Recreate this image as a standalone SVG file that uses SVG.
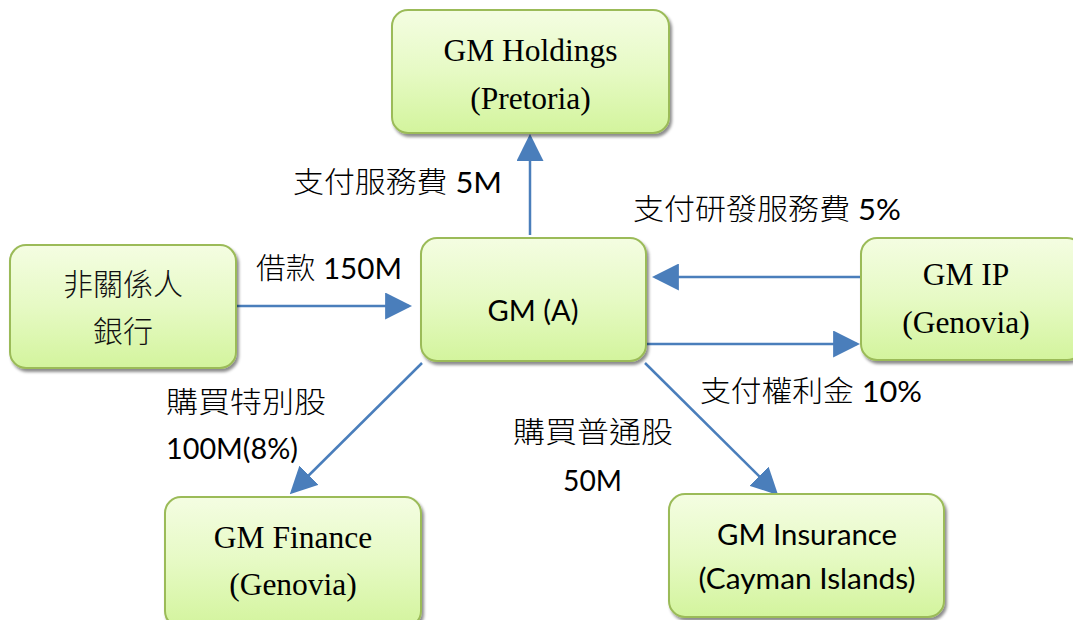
<svg xmlns="http://www.w3.org/2000/svg" width="1073" height="620" viewBox="0 0 1073 620">
  <defs>
    <linearGradient id="boxFill" x1="0" y1="0" x2="0" y2="1">
      <stop offset="0" stop-color="#f4fde2"/>
      <stop offset="0.5" stop-color="#e6fac4"/>
      <stop offset="1" stop-color="#d3f49d"/>
    </linearGradient>
    <filter id="shadow" x="-10%" y="-10%" width="125%" height="130%">
      <feDropShadow dx="2" dy="3" stdDeviation="1.6" flood-color="#000" flood-opacity="0.45"/>
    </filter>
    <marker id="arrow" markerUnits="userSpaceOnUse" markerWidth="27" markerHeight="27" viewBox="0 0 26 26" refX="23" refY="13" orient="auto">
      <path d="M0,0 L26,13 L0,26 Z" fill="#4a7ebb"/>
    </marker>
    <style>
      .box { fill: url(#boxFill); stroke: #9bbb59; stroke-width: 2; filter: url(#shadow); }
      .serif { font-family: "Liberation Serif", "Times New Roman", serif; font-size: 31.5px; fill: #000; text-anchor: middle; }
      .sans { font-family: Lato, "Noto Sans CJK TC", sans-serif; font-size: 29px; fill: #000; }
      .mid { text-anchor: middle; }
      .cjk { font-family: "Noto Sans CJK TC", sans-serif; font-size: 30px; font-weight: 300; fill: #111; text-anchor: middle; }
      .lbl { font-weight: 300; }
      .edge { stroke: #4a7ebb; stroke-width: 2.5; fill: none; marker-end: url(#arrow); }
    </style>
  </defs>

  <!-- connectors -->
  <g id="connectors">
    <line class="edge" x1="530" y1="235" x2="530" y2="137"/>
    <line class="edge" x1="237" y1="306" x2="409" y2="306"/>
    <line class="edge" x1="860" y1="277" x2="655" y2="277"/>
    <line class="edge" x1="647" y1="344" x2="857" y2="344"/>
    <line class="edge" x1="422" y1="363" x2="292" y2="492"/>
    <line class="edge" x1="645" y1="363" x2="776" y2="493"/>
  </g>

  <!-- edge labels -->
  <g id="labels">
    <text class="sans" x="293" y="193" textLength="209" lengthAdjust="spacingAndGlyphs"><tspan class="lbl">支付服務費</tspan> 5M</text>
    <text class="sans" x="256" y="279" textLength="146" lengthAdjust="spacingAndGlyphs"><tspan class="lbl">借款</tspan> 150M</text>
    <text class="sans" x="633" y="220" textLength="268" lengthAdjust="spacingAndGlyphs"><tspan class="lbl">支付研發服務費</tspan> 5%</text>
    <text class="sans" x="700" y="402" textLength="222" lengthAdjust="spacingAndGlyphs"><tspan class="lbl">支付權利金</tspan> 10%</text>
    <text class="sans lbl" x="166" y="413" textLength="160" lengthAdjust="spacingAndGlyphs">購買特別股</text>
    <text class="sans" x="166" y="459" textLength="132" lengthAdjust="spacingAndGlyphs">100M(8%)</text>
    <text class="sans lbl" x="513" y="443" textLength="160" lengthAdjust="spacingAndGlyphs">購買普通股</text>
    <text class="sans" x="563" y="491" textLength="59" lengthAdjust="spacingAndGlyphs">50M</text>
  </g>

  <!-- nodes -->
  <g id="gm-holdings">
    <rect class="box" x="392" y="10" width="277" height="123" rx="16"/>
    <text class="serif" x="530.5" y="61">GM Holdings</text>
    <text class="serif" x="530.5" y="109">(Pretoria)</text>
  </g>

  <g id="bank">
    <rect class="box" x="10" y="245" width="226" height="123" rx="16"/>
    <text class="cjk" x="123" y="295">非關係人</text>
    <text class="cjk" x="123" y="342">銀行</text>
  </g>

  <g id="gm-a">
    <rect class="box" x="421" y="238" width="225" height="123" rx="16"/>
    <text class="sans mid" x="533" y="321" textLength="91" lengthAdjust="spacingAndGlyphs">GM (A)</text>
  </g>

  <g id="gm-ip">
    <rect class="box" x="861" y="238" width="222" height="122" rx="16"/>
    <text class="serif" x="966" y="285">GM IP</text>
    <text class="serif" x="966" y="333">(Genovia)</text>
  </g>

  <g id="gm-finance">
    <rect class="box" x="165" y="497" width="256" height="130" rx="16"/>
    <text class="serif" x="293" y="548">GM Finance</text>
    <text class="serif" x="293" y="595">(Genovia)</text>
  </g>

  <g id="gm-insurance">
    <rect class="box" x="669" y="494" width="275" height="123" rx="16"/>
    <text class="sans mid" x="807" y="545" textLength="180" lengthAdjust="spacingAndGlyphs">GM Insurance</text>
    <text class="sans mid" x="807" y="589" textLength="217" lengthAdjust="spacingAndGlyphs">(Cayman Islands)</text>
  </g>
</svg>
